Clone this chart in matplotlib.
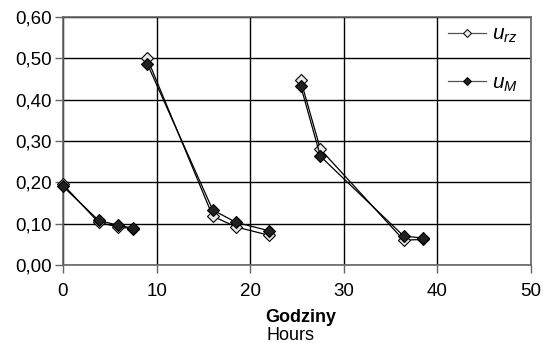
import matplotlib.pyplot as plt
from matplotlib.ticker import FuncFormatter
from matplotlib.lines import Line2D

plt.rcParams['font.family'] = ['Liberation Sans', 'DejaVu Sans']
plt.rcParams['mathtext.fontset'] = 'custom'
plt.rcParams['mathtext.it'] = 'Liberation Sans:italic'
plt.rcParams['mathtext.rm'] = 'Liberation Sans'

# three measurement runs, hours vs moisture ratio
hours = [[0, 3.8, 5.9, 7.5], [9.0, 16.0, 18.5, 22.0], [25.4, 27.5, 36.4, 38.5]]
u_rz = [[0.195, 0.103, 0.092, 0.088], [0.500, 0.118, 0.092, 0.072], [0.447, 0.280, 0.060, 0.062]]
u_M = [[0.190, 0.108, 0.096, 0.089], [0.487, 0.133, 0.103, 0.083], [0.433, 0.263, 0.070, 0.065]]

fig = plt.figure(figsize=(5.46, 3.43), dpi=100)
ax = fig.add_axes([63/546, 1-265/343, (531-63)/546, (265-17)/343])

for i in range(len(hours)):
    ax.plot(hours[i], u_rz[i], color='black', lw=0.9, marker='D', ms=6,
            mfc='#e8e8e8', mec='black', mew=0.8, clip_on=False, zorder=3)
    ax.plot(hours[i], u_M[i], color='black', lw=0.9, marker='D', ms=6,
            mfc='#202020', mec='black', mew=0.8, clip_on=False, zorder=3)

ax.set_xlim(0, 50)
ax.set_ylim(0, 0.6)
ax.set_xticks(range(0, 51, 10))
ax.set_yticks([0, 0.1, 0.2, 0.3, 0.4, 0.5, 0.6])
ax.yaxis.set_major_formatter(FuncFormatter(lambda v, p: ('%.2f' % v).replace('.', ',')))
ax.grid(True, color='black', lw=1.0)
ax.set_axisbelow(True)
for s in ax.spines.values():
    s.set_color('#666666')
    s.set_linewidth(1.2)
ax.tick_params(labelsize=13.5, length=6, color='#666666', width=1.0, pad=2)
ax.tick_params(axis='x', pad=7)

h1 = Line2D([], [], color='#555555', lw=0.9, marker='D', ms=4.5, mfc='#e8e8e8', mec='black', mew=0.7)
h2 = Line2D([], [], color='#555555', lw=0.9, marker='D', ms=4.5, mfc='#202020', mec='black', mew=0.7)
ax.legend([h1, h2], [r'$u_{rz}$', r'$u_M$'], loc='upper left', frameon=False,
          fontsize=15, handlelength=1.8, handletextpad=0.3, labelspacing=1.35,
          borderpad=0, borderaxespad=0, bbox_to_anchor=((448-63)/468, (265-25)/248))

fig.text(265/546, 1-317/343, 'Godziny', ha='left', va='center', fontsize=13, fontweight='bold')
fig.text(266/546, 1-336/343, 'Hours', ha='left', va='center', fontsize=13)

fig.savefig('out.png', dpi=100)
